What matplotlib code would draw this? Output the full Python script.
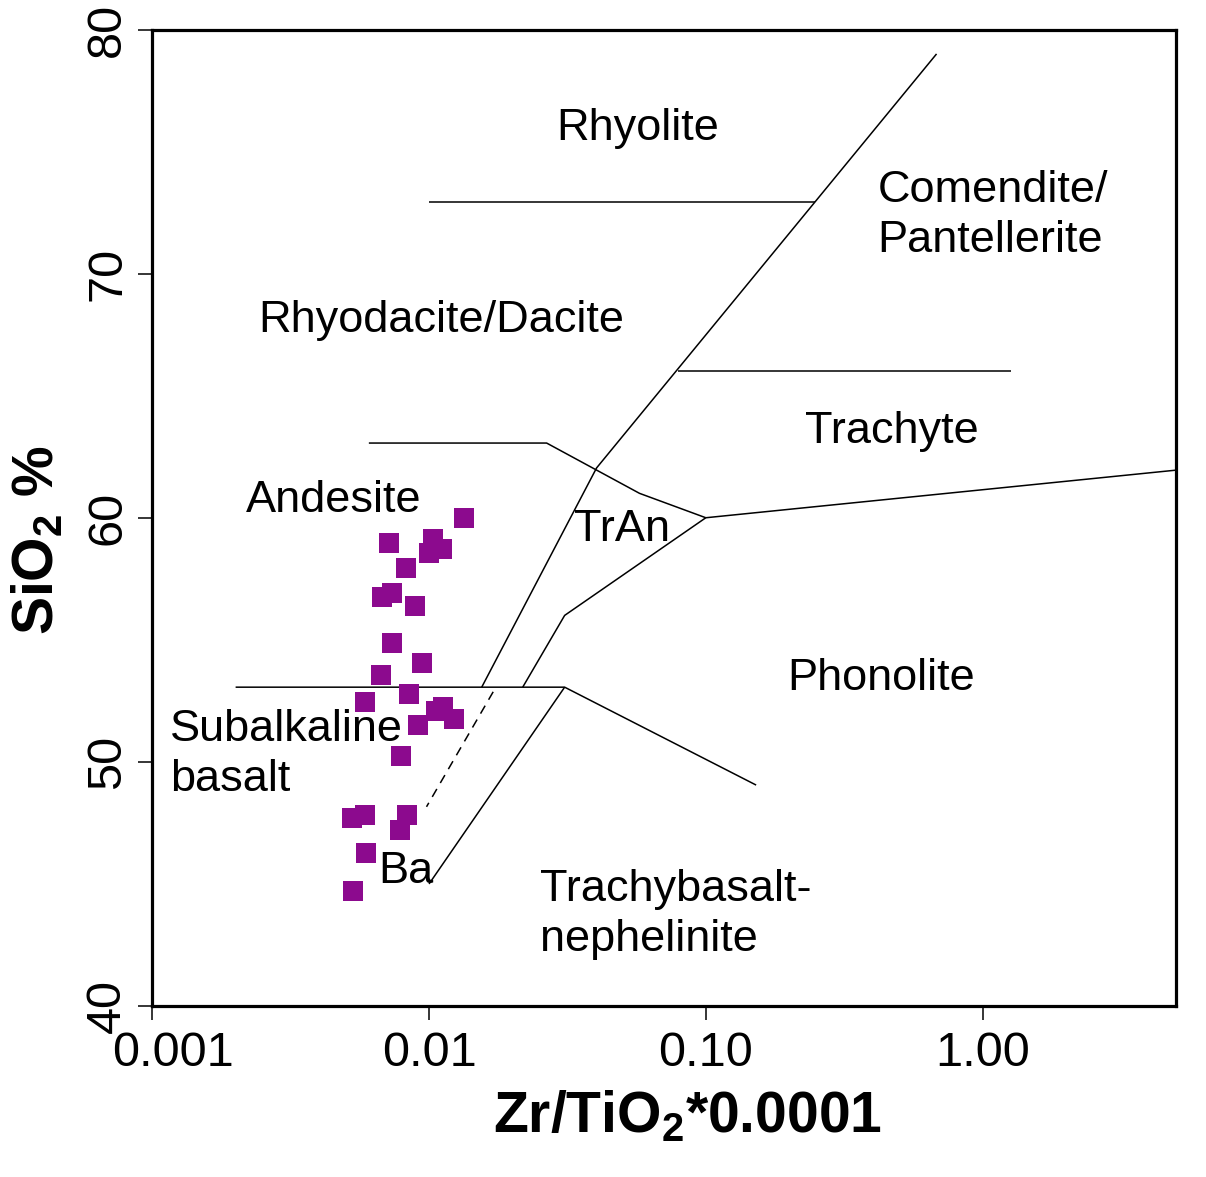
import matplotlib
matplotlib.use("Agg")
import matplotlib.pyplot as plt
import matplotlib.transforms as mtrans
from matplotlib.ticker import FixedLocator, NullLocator

plt.rcParams['font.family'] = ['Liberation Sans', 'DejaVu Sans']
plt.rcParams['mathtext.fontset'] = 'custom'
plt.rcParams['mathtext.rm'] = 'Liberation Sans'
plt.rcParams['mathtext.bf'] = 'Liberation Sans:bold'

# samples: Zr/TiO2*0.0001 and SiO2 %
zr_ti = [0.01334, 0.00719, 0.01034, 0.01118, 0.00998, 0.00826, 0.00677, 0.00735,
         0.00893, 0.00735, 0.00944, 0.00671, 0.00845, 0.00586, 0.01121, 0.01057,
         0.00913, 0.01228, 0.00790, 0.00525, 0.00586, 0.00829, 0.00784, 0.00594,
         0.00531]
sio2 = [60.0, 58.98, 59.13, 58.71, 58.54, 57.93, 56.76, 56.93,
        56.4, 54.88, 54.06, 53.56, 52.78, 52.47, 52.26, 52.08,
        51.51, 51.74, 50.24, 47.69, 47.82, 47.82, 47.21, 46.25,
        44.72]

# field boundaries (Winchester & Floyd 1977)
rhyolite_x = [0.01, 0.249]
rhyolite_y = [72.95, 72.95]
main_x = [0.682, 0.0403, 0.0155]
main_y = [79.0, 62.04, 53.06]
comendite_x = [0.0791, 1.27]
comendite_y = [66.0, 66.0]
andesite_top_x = [0.00606, 0.0266, 0.0576, 0.1]
andesite_top_y = [63.06, 63.06, 61.0, 60.0]
trachyte_x = [0.1, 5.0]
trachyte_y = [60.0, 61.95]
tran_low_x = [0.1, 0.0309, 0.0218]
tran_low_y = [60.0, 56.0, 53.06]
basalt_top_x = [0.002, 0.0309, 0.152]
basalt_top_y = [53.06, 53.06, 49.05]
lower_diag_x = [0.0309, 0.01]
lower_diag_y = [53.06, 45.0]
dashed_x = [0.01705, 0.00979]
dashed_y = [52.87, 48.16]

field_names = ['Rhyolite', 'Comendite/\nPantellerite', 'Rhyodacite/Dacite', 'Trachyte',
               'Andesite', 'TrAn', 'Phonolite', 'Subalkaline\nbasalt', 'Ba',
               'Trachybasalt-\nnephelinite']
name_x = [0.0289, 0.417, 0.00241, 0.229, 0.00218, 0.0333, 0.197, 0.001159, 0.00653, 0.0251]
name_y = [75.94, 72.38, 68.07, 63.52, 60.7, 59.51, 53.41, 50.3, 45.5, 43.75]

xticks = [0.001, 0.01, 0.1, 1.0]
xtick_labels = ['0.001', '0.01', '0.10', '1.00']
yticks = [40, 50, 60, 70, 80]

fig = plt.figure(figsize=(12.06, 11.77), dpi=100)
ax = fig.add_axes([152.3 / 1206, 1 - 1006 / 1177, 1023.7 / 1206, 976.5 / 1177])

ax.set_xscale('log')
ax.set_xlim(0.001, 5.0)
ax.set_ylim(40, 80)

lw = 1.1
for bx, by in [(rhyolite_x, rhyolite_y), (main_x, main_y), (comendite_x, comendite_y),
               (andesite_top_x, andesite_top_y), (trachyte_x, trachyte_y),
               (tran_low_x, tran_low_y), (basalt_top_x, basalt_top_y),
               (lower_diag_x, lower_diag_y)]:
    ax.plot(bx, by, color='black', linewidth=lw, solid_capstyle='butt')
ax.plot(dashed_x, dashed_y, color='black', linewidth=lw, linestyle=(0, (6, 4.5)))

ax.scatter(zr_ti, sio2, marker='s', s=14.4 ** 2, color='#8c0a8e', edgecolors='none', zorder=3)

for name, tx, ty in zip(field_names, name_x, name_y):
    ax.text(tx, ty, name, fontsize=32.5, ha='left', va='center', ma='left', linespacing=1.27)

ax.xaxis.set_major_locator(FixedLocator(xticks))
ax.xaxis.set_minor_locator(NullLocator())
ax.set_xticklabels(xtick_labels)
ax.set_yticks(yticks)
ax.set_yticklabels([str(v) for v in yticks], rotation=90, va='center')

ax.tick_params(axis='both', direction='out', length=10, width=1.1, labelsize=35, pad=8)
ax.tick_params(axis='y', pad=6)
for sp in ax.spines.values():
    sp.set_linewidth(2.3)

# first x label sits a bit to the right so it clears the "40"
first = ax.get_xticklabels()[0]
first.set_transform(first.get_transform() + mtrans.ScaledTranslation(0.21, 0, fig.dpi_scale_trans))

ax.set_xlabel('Zr/TiO$_\\mathbf{2}$*0.0001', fontsize=41, fontweight='bold')
ax.set_ylabel('SiO$_\\mathbf{2}$ %', fontsize=41, fontweight='bold')
ax.xaxis.set_label_coords(0.523, -0.085)
ax.yaxis.set_label_coords(-0.085, 0.477)

fig.savefig('out.png', dpi=100)
